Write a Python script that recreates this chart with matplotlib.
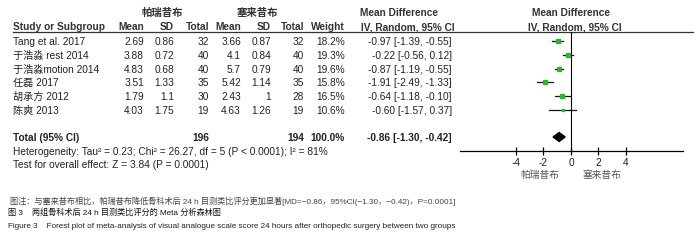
import matplotlib
matplotlib.use("Agg")
import matplotlib.pyplot as plt

plt.rcParams['axes.unicode_minus'] = False

studies = ["Tang et al. 2017", "于浩淼 rest 2014", "于浩淼motion 2014", "任磊 2017", "胡承方 2012", "陈爽 2013"]
mean1 = [2.69, 3.88, 4.83, 3.51, 1.79, 4.03]
sd1 = [0.86, 0.72, 0.68, 1.33, 1.1, 1.75]
n1 = [32, 40, 40, 35, 30, 19]
mean2 = [3.66, 4.1, 5.7, 5.42, 2.43, 4.63]
sd2 = [0.87, 0.84, 0.79, 1.14, 1, 1.26]
n2 = [32, 40, 40, 35, 28, 19]
weight = [18.2, 19.3, 19.6, 15.8, 16.5, 10.6]
md = [-0.97, -0.22, -0.87, -1.91, -0.64, -0.60]
lo = [-1.39, -0.56, -1.19, -2.49, -1.18, -1.57]
hi = [-0.55, 0.12, -0.55, -1.33, -0.10, 0.37]
total = {"n1": 196, "n2": 194, "md": -0.86, "lo": -1.30, "hi": -0.42}
xticks = [-4, -2, 0, 2, 4]
group1, group2 = "帕瑞昔布", "塞来昔布"

FAM = ['Liberation Sans', 'Noto Sans CJK SC']
FS = 7.3
TC = '#222222'
HC = '#333333'

fig = plt.figure(figsize=(7, 2.46), dpi=100)
ax = fig.add_axes([0, 0, 1, 1])
ax.set_xlim(0, 700)
ax.set_ylim(246, 0)
ax.axis('off')


def t(x, y, s, ha='left', bold=False, **kw):
    ax.text(x, y, s, ha=ha, va='center', fontsize=kw.pop('fs', FS), family=FAM,
            fontweight='bold' if bold else 'normal', color=kw.pop('c', TC), **kw)


# headers
t(162, 13, group1, ha='center', bold=True, fs=7.5, c=HC)
t(257, 13, group2, ha='center', bold=True, fs=7.5, c=HC)
t(399, 13, "Mean Difference", ha='center', bold=True, c=HC)
t(571, 13, "Mean Difference", ha='center', bold=True, c=HC)
t(13, 27, "Study or Subgroup", bold=True, c=HC)
for x, s in [(144, "Mean"), (174, "SD"), (209, "Total"), (241, "Mean"),
             (271, "SD"), (304, "Total"), (345, "Weight")]:
    t(x, 27, s, ha='right', bold=True, c=HC)
t(361, 27, "IV, Random, 95% CI", bold=True, c=HC)
t(575, 27, "IV, Random, 95% CI", ha='center', bold=True, c=HC)
ax.plot([13, 693], [32, 32], color='#333333', lw=0.9)

rows_y = [42, 56, 70, 83, 97, 111]
for i, y in enumerate(rows_y):
    t(13, y, studies[i])
    t(144, y, f"{mean1[i]:g}", ha='right')
    t(174, y, f"{sd1[i]:g}", ha='right')
    t(209, y, str(n1[i]), ha='right')
    t(241, y, f"{mean2[i]:g}", ha='right')
    t(271, y, f"{sd2[i]:g}", ha='right')
    t(304, y, str(n2[i]), ha='right')
    t(345, y, f"{weight[i]:.1f}%", ha='right')
    t(452, y, f"{md[i]:.2f} [{lo[i]:.2f}, {hi[i]:.2f}]", ha='right')

ty = 138
t(13, ty, "Total (95% CI)", bold=True)
t(209, ty, str(total["n1"]), ha='right', bold=True)
t(304, ty, str(total["n2"]), ha='right', bold=True)
t(345, ty, "100.0%", ha='right', bold=True)
t(452, ty, f"{total['md']:.2f} [{total['lo']:.2f}, {total['hi']:.2f}]", ha='right', bold=True)
t(13, 152, "Heterogeneity: Tau² = 0.23; Chi² = 26.27, df = 5 (P < 0.0001); I² = 81%")
t(13, 165, "Test for overall effect: Z = 3.84 (P = 0.0001)")

# forest panel
fa = fig.add_axes([460 / 700, (246 - 151) / 246, 223 / 700, 119 / 246])
fa.set_xlim(-8.07, 8.15)
fa.set_ylim(151, 32)
fa.patch.set_alpha(0)
for s in ['top', 'left', 'right']:
    fa.spines[s].set_visible(False)
fa.spines['bottom'].set_linewidth(0.9)
fa.set_yticks([])
fa.set_xticks(xticks)
fa.set_xticklabels([str(v) for v in xticks], family=FAM, fontsize=FS, color=TC)
fa.tick_params(axis='x', direction='inout', length=6, width=0.9, pad=2)
fa.axvline(0, color='black', lw=0.8)
for i, y in enumerate(rows_y):
    fa.plot([lo[i], hi[i]], [y - 1.5, y - 1.5], color='#111111', lw=0.9)
    fa.plot(md[i], y - 1.5, marker='s', ms=weight[i] * 0.16, color='#2db32d', mec='#2db32d')
d = 4.5
fa.fill([total['lo'], total['md'], total['hi'], total['md']], [ty - 1, ty - 1 - d, ty - 1, ty - 1 + d],
        color='black', clip_on=False)
t(540, 175, group1, ha='center', c='#555555', fs=7)
t(602, 175, group2, ha='center', c='#555555', fs=7)

# captions
t(10, 201, "图注：与塞来昔布相比，帕瑞昔布降低骨科术后 24 h 目测类比评分更加显著[MD=−0.86，95%CI(−1.30，−0.42)，P=0.0001]",
  fs=5.9, c='#444444')
t(8, 213, "图 3    两组骨科术后 24 h 目测类比评分的 Meta 分析森林图", fs=5.9, c='#111111')
t(8, 226, "Figure 3    Forest plot of meta-analysis of visual analogue scale score 24 hours after orthopedic surgery between two groups",
  fs=5.9, c='#222222')

fig.savefig("out.png", dpi=100)
